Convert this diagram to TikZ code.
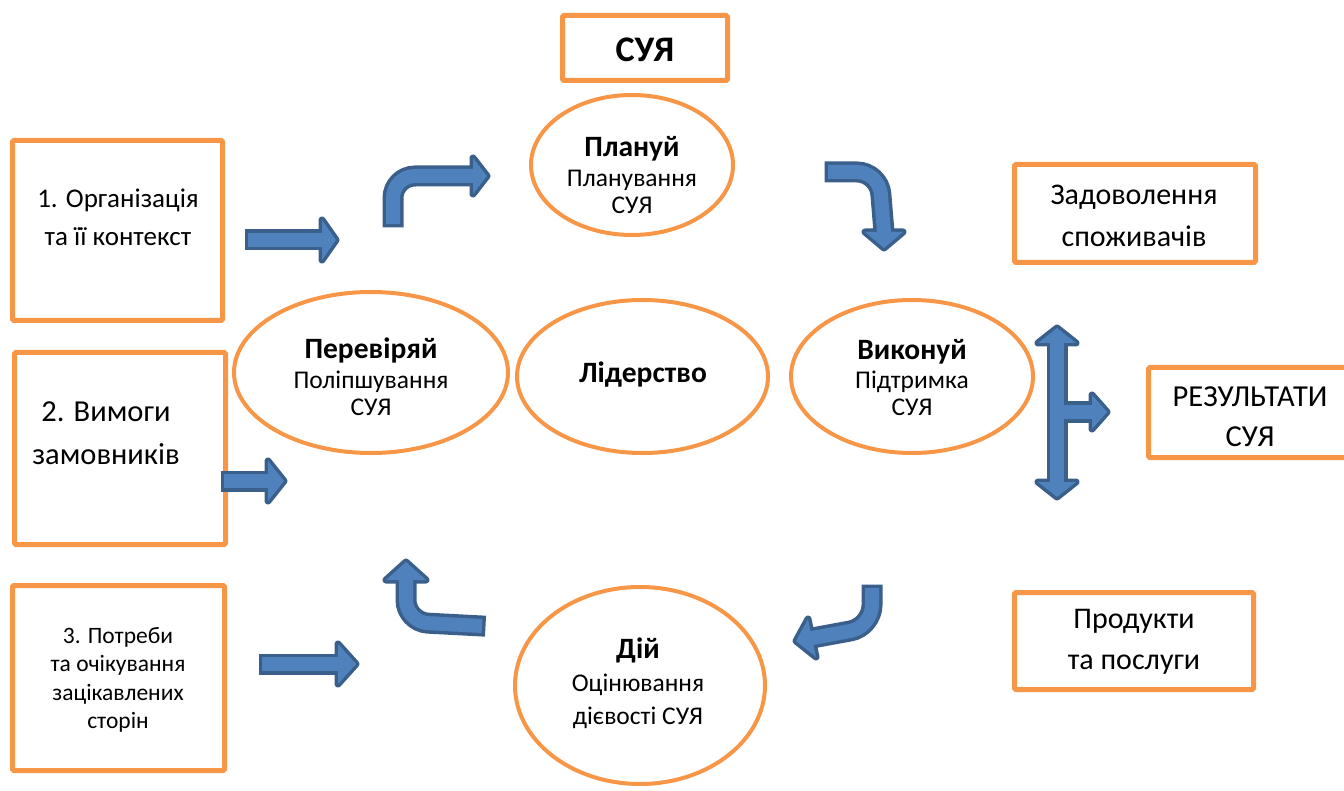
\documentclass[tikz,border=0pt]{standalone}
\usepackage{fontspec}
\setmainfont{Carlito}
\usetikzlibrary{shapes.geometric}
\definecolor{org}{HTML}{F79646}
\definecolor{adk}{HTML}{3A5F8B}
\definecolor{alt}{HTML}{4F81BD}
\begin{document}
\begin{tikzpicture}[x=1pt,y=-1pt,
  box/.style={draw=org, line width=5pt, rounded corners=1.5pt, rectangle, inner sep=0pt},
  ell/.style={ellipse, draw=org, line width=4pt, inner sep=0pt},
  txt/.style={align=center, inner sep=0pt},
  dk/.style={draw=adk, line width=21pt},
  dkh/.style={draw=adk, fill=adk, line width=7pt, line join=round},
  lt/.style={draw=alt, line width=14pt},
  lth/.style={fill=alt}]
\useasboundingbox (0,0) rectangle (1344,791);

% boxes
\node[box, minimum width=165pt, minimum height=65pt] (suy) at (645,48) {};
\node[box, minimum width=210pt, minimum height=180pt] (b1) at (117.5,230.5) {};
\node[box, minimum width=211pt, minimum height=192pt] (b2) at (120,448.5) {};
\node[box, minimum width=212pt, minimum height=185pt] (b3) at (118.5,678) {};
\node[box, minimum width=241pt, minimum height=98pt] (zad) at (1135,213.5) {};
\node[box, minimum width=204pt, minimum height=90pt] (res) at (1250.5,412.5) {};
\node[box, minimum width=239pt, minimum height=97pt] (prod) at (1134,641) {};

% ellipses
\node[ell, minimum width=202pt, minimum height=140pt] (plan) at (632,165) {};
\node[ell, minimum width=274pt, minimum height=161pt] (check) at (371,372.5) {};
\node[ell, minimum width=251pt, minimum height=153pt] (lead) at (642.5,376.5) {};
\node[ell, minimum width=242pt, minimum height=153pt] (do) at (912,376.5) {};
\node[ell, minimum width=250pt, minimum height=197pt] (act) at (640,685.5) {};

% texts
\node[txt, font=\fontsize{36}{40}\selectfont\bfseries] (tsuy) at (645,50) {СУЯ};
\node[txt, font=\fontsize{27}{38}\selectfont] (t1) at (118,217) {1. Організація\\та її контекст};
\node[txt, font=\fontsize{30.5}{43}\selectfont] (t2) at (106,433) {2. Вимоги\\замовників};
\node[txt, font=\fontsize{23.5}{28.5}\selectfont] (t3) at (118,680) {3. Потреби\\та очікування\\зацікавлених\\сторін};
\node[txt, font=\fontsize{25.5}{27}\selectfont] (tplan) at (632,175) {{\fontsize{29.5}{30}\selectfont\bfseries Плануй}\\[3pt]Планування\\СУЯ};
\node[txt, font=\fontsize{25.5}{27}\selectfont] (tcheck) at (371,377) {{\fontsize{29.5}{30}\selectfont\bfseries Перевіряй}\\[3pt]Поліпшування\\СУЯ};
\node[txt, font=\fontsize{29.5}{30}\selectfont\bfseries] (tlead) at (643,375) {Лідерство};
\node[txt, font=\fontsize{25.5}{27}\selectfont] (tdo) at (912,378) {{\fontsize{29.5}{30}\selectfont\bfseries Виконуй}\\[2pt]Підтримка\\СУЯ};
\node[txt, font=\fontsize{25.5}{33}\selectfont] (tact) at (638,683) {{\fontsize{29.5}{30}\selectfont\bfseries Дій}\\Оцінювання\\дієвості СУЯ};
\node[txt, font=\fontsize{30}{42}\selectfont] (tzad) at (1134,216) {Задоволення\\споживачів};
\node[txt, font=\fontsize{30.5}{40}\selectfont] (tres) at (1250,417) {РЕЗУЛЬТАТИ\\СУЯ};
\node[txt, font=\fontsize{30}{41}\selectfont] (tprod) at (1134,642) {Продукти\\та послуги};

% ---- block arrows: dark layer
% straight arrows
\draw[dk, shorten <=-3.5pt] (248,240) -- (322,240);
\filldraw[dkh] (322,220) -- (336,240) -- (322,260) -- cycle;
\draw[dk, shorten <=-3.5pt] (224,481) -- (268,481);
\filldraw[dkh] (268,461) -- (284,481) -- (268,501) -- cycle;
\draw[dk, shorten <=-3.5pt] (262,664) -- (338,664);
\filldraw[dkh] (338,644) -- (356,664) -- (338,684) -- cycle;
% bent arrows
\draw[dk, rounded corners=22pt, shorten <=-3.5pt] (393,224) -- (393,176) -- (473,176);
\filldraw[dkh] (473,158) -- (487,176) -- (473,194) -- cycle;
\draw[dk, rounded corners=22pt, shorten <=-3.5pt] (828,172) -- (879,172) -- (884,232);
\filldraw[dkh] (865,232) -- (884,248) -- (903,232) -- cycle;
\draw[dk, rounded corners=22pt, shorten <=-3.5pt] (482,626) -- (406,622) -- (406,580);
\filldraw[dkh] (386,580) -- (406,562) -- (426,580) -- cycle;
\draw[dk, rounded corners=22pt, shorten <=-3.5pt] (872,588) -- (872,627) -- (812,638);
\filldraw[dkh] (816,657) -- (796,641) -- (808,619) -- cycle;
% double arrow with branch
\draw[dk] (1057,343) -- (1057,482);
\draw[dk] (1057,412) -- (1092,412);
\filldraw[dkh] (1038,343) -- (1057,328) -- (1076,343) -- cycle;
\filldraw[dkh] (1038,482) -- (1057,497) -- (1076,482) -- cycle;
\filldraw[dkh] (1092,395) -- (1107,412) -- (1092,429) -- cycle;

% ---- light layer
\draw[lt, shorten >=-5pt] (248,240) -- (322,240);
\fill[lth] (322,220) -- (336,240) -- (322,260) -- cycle;
\draw[lt, shorten >=-5pt] (224,481) -- (268,481);
\fill[lth] (268,461) -- (284,481) -- (268,501) -- cycle;
\draw[lt, shorten >=-5pt] (262,664) -- (338,664);
\fill[lth] (338,644) -- (356,664) -- (338,684) -- cycle;
\draw[lt, rounded corners=22pt, shorten >=-5pt] (393,224) -- (393,176) -- (473,176);
\fill[lth] (473,158) -- (487,176) -- (473,194) -- cycle;
\draw[lt, rounded corners=22pt, shorten >=-5pt] (828,172) -- (879,172) -- (884,232);
\fill[lth] (865,232) -- (884,248) -- (903,232) -- cycle;
\draw[lt, rounded corners=22pt, shorten >=-5pt] (482,626) -- (406,622) -- (406,580);
\fill[lth] (386,580) -- (406,562) -- (426,580) -- cycle;
\draw[lt, rounded corners=22pt, shorten >=-5pt] (872,588) -- (872,627) -- (812,638);
\fill[lth] (816,657) -- (796,641) -- (808,619) -- cycle;
\draw[lt, shorten >=-5pt, shorten <=-5pt] (1057,343) -- (1057,482);
\draw[lt, shorten >=-5pt] (1057,412) -- (1092,412);
\fill[lth] (1038,343) -- (1057,328) -- (1076,343) -- cycle;
\fill[lth] (1038,482) -- (1057,497) -- (1076,482) -- cycle;
\fill[lth] (1092,395) -- (1107,412) -- (1092,429) -- cycle;
\end{tikzpicture}
\end{document}
